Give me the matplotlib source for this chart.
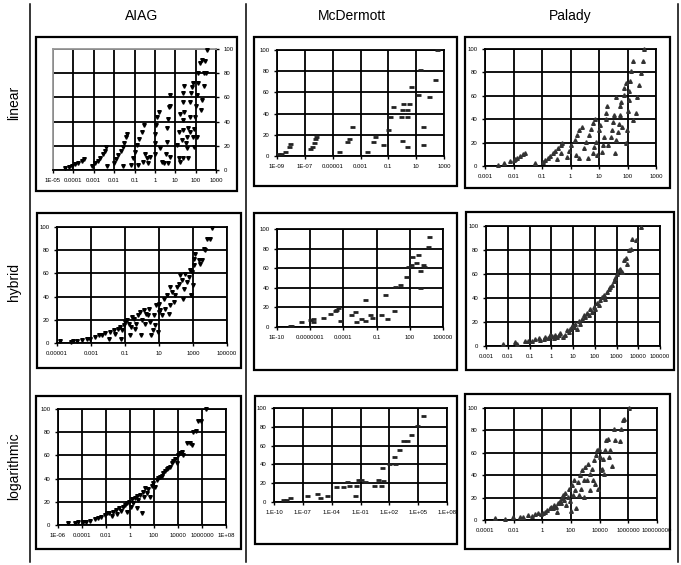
import numpy as np
import matplotlib
matplotlib.use("Agg")
import matplotlib.pyplot as plt
from matplotlib.patches import Rectangle
from matplotlib.lines import Line2D

plt.rcParams['font.family'] = ['Liberation Sans', 'DejaVu Sans']

# column / row headings
methods = ['AIAG', 'McDermott', 'Palady']
scales = ['linear', 'hybrid', 'logarithmic']

# x values are stored as log10 of the score, y is cumulative percent

# AIAG - linear
aiag_lin_x = [-4.43, -4.21, -4.05, -3.93, -3.77, -3.6, -3.47, -3.08, -2.95, -2.78, -2.67, -2.57, -2.47, -2.4,
              -2.34, -2.01, -1.91, -1.8, -1.68, -1.58, -1.5, -1.42, -1.36, -1.55, -1.19, -1.09, -0.98, -0.86,
              -0.76, -0.65, -0.53, -0.81, -0.6, -0.48, -0.4, -0.24, -0.32, 0.02, 0.02, 0.02, 0.06, 0.09, 0.19,
              0.25, 0.34, 0.45, 0.55, 0.58, 0.58, 0.66, 0.71, 0.76, 0.75, 0.62, 0.75, 1.08, 1.16, 1.24, 1.32,
              1.37, 1.4, 1.44, 1.37, 1.4, 1.44, 1.57, 1.6, 1.65, 1.7, 1.73, 1.76, 1.81, 1.86, 1.9, 1.86, 1.93,
              1.98, 2.03, 2.06, 2.11, 2.14, 2.22, 2.3, 2.39, 2.3, 2.26, 2.39, 2.47, 2.55, 2.52, 1.65, 1.54,
              1.73, 2.06, 1.16, 1.24, 1.4]
aiag_lin_y = [1.4, 2.8, 3.6, 5, 6, 7.7, 9.4, 3.3, 5.5, 7.7, 10, 13, 16, 19,
              3.3, 6, 9, 12.4, 16, 19.3, 22.6, 27, 29.5, 3.3, 4, 9.7, 15, 20.7,
              26, 31.8, 37, 4, 7, 13, 9.7, 11, 5.5, 13, 22, 30, 37, 44, 48,
              18, 7, 6, 13, 23.5, 35, 42, 52, 62, 11, 5.5, 53, 20.7, 9.7, 7, 24.9,
              33, 41.4, 48, 56.6, 63.5, 69.6, 18, 27.6, 35, 43.6, 56.6, 63.5, 69, 71.8, 19.3, 27.6, 33.7,
              44, 52.5, 62, 71.8, 80, 88.4, 91, 69.6, 58, 49.7, 80, 89.8, 99.4, 80, 9.7, 22,
              31.8, 27.6, 31.8, 46.4, 9.7]

# McDermott - linear
mcd_lin_x = [-8.95, -8.71, -8.4, -8.17, -8.05, -6.6, -6.5, -6.37, -6.26, -6.18, -4.58, -3.98, -3.84, -3.63,
             -2.56, -2.13, -1.96, -1.36, -1.0, -0.88, -0.69, -0.12, -0.05, 0.02, -0.05, 0.31, 0.36, 0.45,
             0.31, 0.64, 1.14, 1.31, 1.5, 1.5, 1.9, 2.33, 2.5]
mcd_lin_y = [1.9, 1.9, 4.1, 8.2, 11, 6.3, 8.8, 12, 15.7, 18.2, 4.1, 13.5, 15.7, 27.7,
             4.1, 13.5, 17.6, 10.4, 24.5, 36.5, 45.9, 36.5, 43.1, 49.4, 14.5, 36.5, 43.1, 49.4,
             8.2, 64.8, 57.5, 81.1, 27.7, 10.4, 55.3, 71.7, 100]

# Palady - linear
pal_lin_x = [-2.56, -2.32, -2.12, -2.0, -1.94, -1.86, -1.76, -1.67, -1.59, -1.24, -0.96, -0.88, -0.8, -0.71,
             -0.61, -0.53, -0.45, -0.35, -0.29, -0.35, -0.46, -0.12, -0.06, 0.0, 0.15, 0.24, 0.29, 0.39,
             0.18, 0.29, 0.47, 0.55, 0.65, 0.71, 0.79, 0.86, 0.62, 0.79, 0.82, 0.91, 0.94, 1.0, 1.05, 1.09,
             1.14, 1.17, 1.23, 1.26, 1.29, 1.33, 1.42, 1.45, 1.48, 1.54, 1.57, 1.6, 1.66, 1.69, 1.72, 1.74,
             1.78, 1.81, 1.86, 1.89, 1.93, 1.95, 1.98, 2.01, 2.05, 2.07, 2.1, 2.14, 2.18, 2.2, 2.29, 2.34,
             2.41, 2.46, 2.53, 2.58, 1.6]
pal_lin_y = [0.9, 2.3, 4.3, 5.1, 5.7, 7.1, 8.6, 10.3, 11.4, 2.3, 3.7, 5.1, 6.6, 8.6,
             10.9, 13.1, 15.1, 17.7, 20, 10.9, 5.7, 8, 12.9, 18, 22.3, 26.6, 30.9, 33.7,
             9.4, 6.6, 15.1, 20.9, 26.6, 31.4, 36.6, 40, 6.6, 10.9, 16.6, 20.9, 9.4, 30.9, 35.1, 12.3,
             18, 25, 40, 45, 50.9, 18, 25, 30.9, 38, 43.7, 10.9, 22, 29, 36, 43.7, 50.9,
             55, 33.7, 60.9, 66.6, 70.9, 19.4, 30.9, 46.6, 56.6, 63.7, 72.3, 80.9, 89.4, 39.4, 45.1, 59.4,
             69.4, 79.4, 89.4, 100, 59.4]

# AIAG - hybrid
aiag_hyb_x = [-4.84, -4.2, -4.06, -3.82, -3.53, -3.24, -3.04, -2.75, -2.55, -2.35, -2.16, -1.96, -1.86, -1.67,
              -1.57, -1.43, -1.31, -1.24, -1.18, -1.08, -0.98, -0.88, -0.78, -0.73, -0.65, -0.59, -0.49,
              -0.39, -0.33, -0.25, -0.14, -0.06, 0.0, 0.1, 0.2, 0.25, 0.33, 0.39, 0.49, 0.53, 0.65, 0.69,
              0.78, 0.84, 0.92, 0.98, 0.98, 1.08, 1.18, 1.27, 1.37, 1.47, 1.57, 1.63, 1.67, 1.76, 1.86, 1.96,
              2.06, 2.16, 2.25, 2.35, 2.41, 2.49, 2.55, 2.65, 2.75, 2.8, 2.88, 2.94, 3.0, 3.04, 3.08, 3.14,
              3.33, 3.43, 3.53, 3.63, 3.73, 3.82, 4.02, 4.12]
aiag_hyb_y = [1.4, 0.9, 1.4, 1.4, 2.3, 3.2, 3.7, 5.2, 6.6, 7.2, 8.9, 3.2, 9.5, 10.9,
              8, 12.4, 13.8, 3.7, 10.9, 15.2, 18.1, 19.5, 16.7, 6.6, 13.8, 22.4, 20.4,
              12.4, 16.7, 23.9, 26.7, 7.2, 19.5, 28.2, 16.7, 25.3, 23.9, 29.6, 18.1, 7.2, 10.9, 23.9,
              15.2, 32.5, 9.5, 33.9, 26.7, 28.2, 23.9, 38.2, 29.6, 41.1, 25.3, 48.3, 32.5, 43.9, 35.3, 41.1,
              48.3, 51.1, 58.3, 54, 38.2, 46.8, 59.8, 52.6, 56.9, 62.6, 41.1, 61.2, 49.7, 67, 72.7, 77,
              71.3, 68.4, 71.3, 81.3, 79.9, 89.9, 89.9, 99.4]

# McDermott - hybrid
mcd_hyb_x = [-8.86, -8.7, -7.8, -7.05, -6.75, -6.75, -5.84, -5.24, -4.79, -4.64, -4.49, -4.28, -3.28, -2.98,
             -2.89, -2.38, -2.08, -2.08, -1.63, -1.39, -0.58, -0.27, -0.06, 0.54, 0.63, 1.14, 1.69, 1.84,
             2.14, 2.23, 2.59, 2.74, 2.89, 2.89, 3.19, 3.25, 3.64, 3.73]
mcd_hyb_y = [1.4, 1.4, 4.8, 7.5, 5.1, 8.5, 9.2, 13.3, 16, 17.7, 19.4, 5.8, 12.6, 15.3,
             5.1, 8.5, 27.9, 5.8, 12.6, 9.2, 12.6, 32.3, 8.5, 16, 40.5, 42.5, 50.7, 60.9,
             63.6, 71.1, 65.3, 73.1, 57.1, 39.8, 63.6, 60.9, 81.3, 91.5]

# Palady - hybrid
pal_hyb_x = [-2.23, -1.66, -1.58, -1.2, -1.05, -0.89, -0.74, -0.58, -0.51, -0.35, -0.28, -0.17, -0.08, 0.03,
             0.11, 0.18, 0.26, 0.34, 0.42, 0.54, 0.65, 0.72, 0.8, 0.88, 0.95, 1.03, 1.11, 1.18, 1.26, 1.34,
             1.42, 1.49, 1.57, 1.65, 1.72, 1.8, 1.88, 1.95, 2.03, 2.11, 2.18, 2.26, 2.34, 2.42, 2.49, 2.57,
             2.65, 2.72, 2.8, 2.88, 2.95, 3.03, 3.11, 3.18, 3.26, 3.34, 3.42, 3.49, 3.57, 3.65, 3.72, 3.88,
             4.11]
pal_hyb_y = [1.9, 3.3, 1.9, 3.9, 4.4, 4.4, 5.6, 6.7, 4.7, 6.1, 7.5, 6.7, 8.9, 8.3,
             6.7, 9.4, 7.5, 9.4, 11.1, 7.5, 9.4, 13.1, 11.7, 14.4, 16.7, 15.8, 18.6, 14.4, 20.6, 18.6,
             22.2, 25.6, 24.2, 27.8, 25.6, 30.6, 28.3, 32.5, 31.1, 36.1, 33.9, 38.1, 40.8, 42.2, 39.4, 45,
             47.8, 49.2, 50.8, 53.9, 56.7, 60.3, 63.1, 64.4, 61.7, 71.4, 73.3, 68.6, 79.7, 81.1, 89.4, 88.6,
             99.2]

# AIAG - logarithmic
aiag_log_x = [-5.16, -4.61, -4.33, -3.91, -3.63, -3.35, -2.94, -2.66, -2.38, -2.1, -1.9, -1.74, -1.54, -1.4,
              -1.18, -1.07, -0.9, -0.71, -0.57, -0.43, -0.29, -0.23, -0.07, 0.05, 0.13, 0.27, 0.41, 0.55,
              0.55, 0.69, 0.83, 0.97, 1.05, 1.16, 1.24, 1.38, 1.52, 1.66, 1.8, 1.94, 2.08, 2.21, 2.35, 2.49,
              2.63, 2.77, 2.91, 3.05, 3.19, 3.33, 3.47, 3.61, 3.75, 3.89, 4.03, 4.17, 4.31, 4.45, 4.73, 4.99,
              5.14, 5.28, 5.5, 5.7, 5.9, 6.34]
aiag_log_y = [2, 2, 2.9, 2.9, 2.9, 3.7, 4.9, 5.7, 7.2, 8.6, 10.1, 10.6, 7.8, 11.5,
              12.9, 9.5, 14.4, 12.4, 15.8, 17.2, 11.5, 18.7, 20.1, 15.8, 22.1, 18.7, 23, 14.4,
              25, 21.6, 25.9, 10.6, 28.7, 24.4, 31.6, 27.3, 30.7, 24.4, 33.6, 35.9, 32.5, 38.8, 40.2, 41.7,
              42.2, 44.5, 46.8, 48, 48.9, 50.3, 53.2, 55.5, 56.6, 53.2, 60.3, 62.4, 63.2, 60.3, 70.4, 71,
              69, 79.9, 81.3, 89.4, 90, 100]

# McDermott - logarithmic
mcd_log_x = [-9.03, -8.75, -8.33, -6.6, -5.56, -5.21, -4.51, -3.54, -2.78, -2.43, -2.15, -1.56, -1.46, -1.22,
             -0.97, -0.52, 0.41, 0.87, 1.11, 1.22, 1.39, 2.01, 2.49, 2.6, 2.98, 3.47, 3.81, 4.22, 4.85, 5.47]
mcd_log_y = [2.5, 2.5, 4.3, 6.7, 8.9, 4.3, 6.7, 16, 16, 20.9, 17.4, 6.7, 16.7, 23.8,
             23, 20.9, 16.7, 23.8, 17.4, 36.2, 22, 40.4, 47.9, 40.8, 55.7, 64.5, 64.5, 71.6, 80.5, 91.8]

# Palady - logarithmic
pal_log_x = [-3.3, -2.6, -2.07, -1.55, -1.36, -0.97, -0.74, -0.5, -0.27, -0.1, 0.03, 0.2, 0.36, 0.5,
             0.59, 0.73, 0.83, 0.97, 1.01, 1.06, 1.2, 1.29, 1.36, 1.43, 1.52, 1.59, 1.66, 1.76, 1.83, 1.9,
             1.99, 2.06, 2.13, 2.18, 2.29, 2.36, 2.46, 2.53, 2.6, 2.69, 2.76, 2.88, 2.92, 2.99, 3.11, 3.22,
             3.3, 3.34, 3.46, 3.53, 3.58, 3.69, 3.76, 3.81, 3.86, 3.93, 4.04, 4.09, 4.16, 4.23, 4.32, 4.39,
             4.46, 4.56, 4.62, 4.74, 4.86, 4.97, 5.09, 5.39, 5.49, 5.63, 5.72, 6.02]
pal_log_y = [1.5, 0.6, 2.4, 3, 3, 4.4, 3.6, 5.3, 5.9, 5.3, 6.5, 7.4, 8.9, 10.4,
             11.8, 10.4, 13.3, 11.8, 7.4, 15.4, 17.2, 14.8, 19.2, 22.2, 17.8, 24.3, 13.3, 20.7, 28.1, 17.2,
             8.3, 31.1, 22.2, 35.5, 26.6, 10.4, 34, 22.2, 39.9, 28.1, 44.4, 35.5, 20.7, 47.3, 35.5, 50.3,
             27.2, 41.4, 45.9, 35.5, 53.3, 32.5, 57.7, 62.1, 28.1, 63.6, 56.2, 44.4, 45.9, 54.7, 40.8, 62.1,
             71, 72.5, 56.2, 62.7, 48.5, 81.1, 71.6, 70.4, 81.1, 89.3, 90.2, 100]

# tick exponents and labels for each panel
aiag_lin_ticks = [-5, -4, -3, -2, -1, 0, 1, 2, 3]
aiag_lin_labels = ['1E-05', '0.0001', '0.001', '0.01', '0.1', '1', '10', '100', '1000']
mcd_lin_ticks = [-9, -7, -5, -3, -1, 1, 3]
mcd_lin_labels = ['1E-09', '1E-07', '0.00001', '0.001', '0.1', '10', '1000']
pal_lin_ticks = [-3, -2, -1, 0, 1, 2, 3]
pal_lin_labels = ['0.001', '0.01', '0.1', '1', '10', '100', '1000']
aiag_hyb_ticks = [-5, -3, -1, 1, 3, 5]
aiag_hyb_labels = ['0.00001', '0.001', '0.1', '10', '1000', '100000']
mcd_hyb_ticks = [-10, -7, -4, -1, 2, 5]
mcd_hyb_labels = ['1E-10', '0.0000001', '0.0001', '0.1', '100', '100000']
pal_hyb_ticks = [-3, -2, -1, 0, 1, 2, 3, 4, 5]
pal_hyb_labels = ['0.001', '0.01', '0.1', '1', '10', '100', '1000', '10000', '100000']
aiag_log_ticks = [-6, -4, -2, 0, 2, 4, 6, 8]
aiag_log_labels = ['1E-06', '0.0001', '0.01', '1', '100', '10000', '1000000', '1E+08']
mcd_log_ticks = [-10, -7, -4, -1, 2, 5, 8]
mcd_log_labels = ['1.E-10', '1.E-07', '1.E-04', '1.E-01', '1.E+02', '1.E+05', '1.E+08']
pal_log_ticks = [-4, -2, 0, 2, 4, 6, 8]
pal_log_labels = ['0.0001', '0.01', '1', '100', '10000', '1000000', '100000000']

y_ticks = [0, 20, 40, 60, 80, 100]

W, H = 681, 565
fig = plt.figure(figsize=(W / 100, H / 100), dpi=100)


def frac(x0, y0, x1, y1):
    return [x0 / W, 1 - y1 / H, (x1 - x0) / W, (y1 - y0) / H]


# (data x, data y, ticks, labels, axes px rect, box px rect, method)
panels = [
    (aiag_lin_x, aiag_lin_y, aiag_lin_ticks, aiag_lin_labels, (53, 49, 216, 170), (36, 37, 237, 191), 0),
    (mcd_lin_x, mcd_lin_y, mcd_lin_ticks, mcd_lin_labels, (277, 50, 444, 156), (254, 37, 457, 186), 1),
    (pal_lin_x, pal_lin_y, pal_lin_ticks, pal_lin_labels, (485, 49, 656, 166), (465, 37, 670, 188), 2),
    (aiag_hyb_x, aiag_hyb_y, aiag_hyb_ticks, aiag_hyb_labels, (57, 227, 227, 343), (37, 213, 241, 368), 0),
    (mcd_hyb_x, mcd_hyb_y, mcd_hyb_ticks, mcd_hyb_labels, (277, 229, 443, 327), (254, 213, 457, 370), 1),
    (pal_hyb_x, pal_hyb_y, pal_hyb_ticks, pal_hyb_labels, (486, 226, 660, 346), (466, 212, 674, 370), 2),
    (aiag_log_x, aiag_log_y, aiag_log_ticks, aiag_log_labels, (58, 409, 226, 525), (36, 396, 241, 549), 0),
    (mcd_log_x, mcd_log_y, mcd_log_ticks, mcd_log_labels, (274, 408, 447, 502), (255, 396, 457, 544), 1),
    (pal_log_x, pal_log_y, pal_log_ticks, pal_log_labels, (485, 408, 657, 520), (465, 394, 670, 549), 2),
]

marker_styles = [
    dict(marker='v', ms=2.6, color='black', mec='black'),
    dict(marker='_', ms=3.6, mew=2.0, color='#222222'),
    dict(marker='^', ms=2.6, color='#333333', mec='#333333'),
]

for i, (xs, ys, ticks, labels, axpx, boxpx, m) in enumerate(panels):
    bx0, by0, bx1, by1 = boxpx
    fig.add_artist(Rectangle((bx0 / W, 1 - by1 / H), (bx1 - bx0) / W, (by1 - by0) / H,
                             transform=fig.transFigure, fill=False, lw=1.6, ec='black'))
    ax = fig.add_axes(frac(*axpx))
    ax.set_xscale('log')
    ax.plot(10.0 ** np.array(xs), ys, ls='none', zorder=3, clip_on=False, **marker_styles[m])
    tv = 10.0 ** np.array(ticks, dtype=float)
    ax.set_xlim(tv[0], tv[-1])
    ax.set_ylim(0, 100)
    ax.set_xticks(tv)
    ax.set_xticklabels(labels)
    ax.xaxis.set_minor_locator(matplotlib.ticker.NullLocator())
    ax.set_yticks(y_ticks)
    ax.grid(True, color='black', lw=1.3)
    ax.tick_params(labelsize=4.3, length=2.5, width=1, pad=3)
    for s in ax.spines.values():
        s.set_linewidth(1.3)
    if i == 0:
        ax.yaxis.tick_right()
        ax.spines['top'].set_color('#999999')
        ax.spines['left'].set_color('#999999')

# headings
col_centers = [142, 352, 570]
for name, cx in zip(methods, col_centers):
    fig.text(cx / W, 1 - 16 / H, name, ha='center', va='center', fontsize=10)
row_centers = [103, 282, 466]
for name, cy in zip(scales, row_centers):
    fig.text(14 / W, 1 - cy / H, name, ha='center', va='center', rotation=90, fontsize=10)

# separating lines
for lx in [30, 246, 678]:
    fig.add_artist(Line2D([lx / W, lx / W], [1 - 4 / H, 1 - 562 / H], transform=fig.transFigure,
                          color='black', lw=1.1))

fig.savefig('out.png', dpi=100)
